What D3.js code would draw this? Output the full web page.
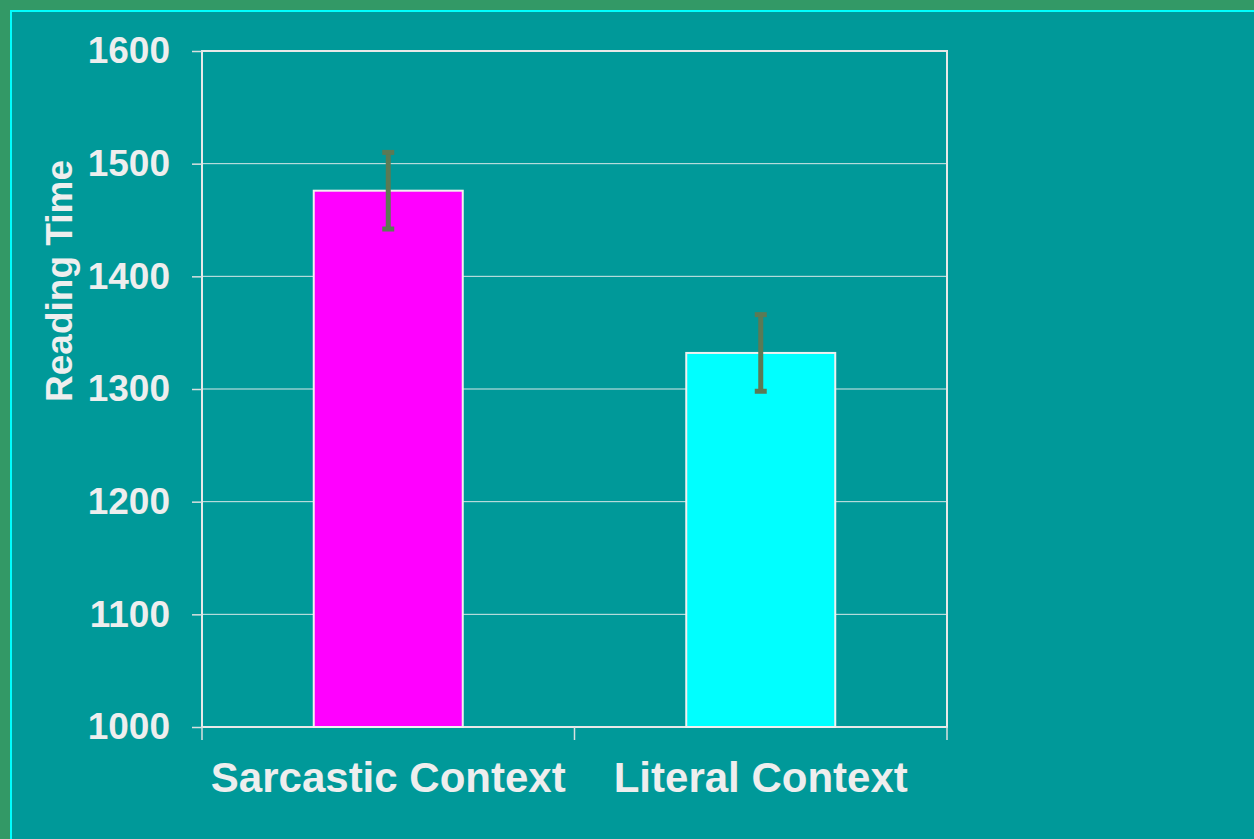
<!DOCTYPE html>
<html>
<head>
<meta charset="utf-8">
<script src="https://cdn.jsdelivr.net/npm/d3@7"></script>
<style>
html,body{margin:0;padding:0;background:#339966;}
svg{display:block;}
text{font-family:"Liberation Sans",Arial,sans-serif;font-weight:bold;fill:#eeeeee;}
</style>
</head>
<body>
<svg id="chart" width="1254" height="839"></svg>
<script>
const categories = ["Sarcastic Context", "Literal Context"];
const values = [1476, 1332];
const errors = [34, 34];
const barColors = ["#ff00ff", "#00ffff"];
const yTicks = [1000, 1100, 1200, 1300, 1400, 1500, 1600];
const yTitle = "Reading Time";

const svg = d3.select("#chart");
const W = 1254, H = 839;
// slide background
svg.append("rect").attr("x", 0).attr("y", 0).attr("width", W).attr("height", H).attr("fill", "#339966");
svg.append("rect").attr("x", 11).attr("y", 11).attr("width", W + 20).attr("height", H + 20)
  .attr("fill", "#009999").attr("stroke", "#00ffff").attr("stroke-width", 2);

const m = {left: 202, right: 947, top: 51, bottom: 727};
const x = d3.scaleBand().domain(categories).range([m.left, m.right]).paddingInner(0).paddingOuter(0);
const y = d3.scaleLinear().domain([1000, 1600]).range([m.bottom, m.top]);

// gridlines
svg.append("g").selectAll("line").data(yTicks.slice(1, -1)).join("line")
  .attr("x1", m.left).attr("x2", m.right)
  .attr("y1", d => y(d)).attr("y2", d => y(d))
  .attr("stroke", "#d8e8e8").attr("stroke-width", 1);

// plot border
svg.append("rect").attr("x", m.left).attr("y", m.top)
  .attr("width", m.right - m.left).attr("height", m.bottom - m.top)
  .attr("fill", "none").attr("stroke", "#e8e8e8").attr("stroke-width", 2);

// bars
const bw = x.bandwidth() * 0.4;
svg.append("g").selectAll("rect").data(categories).join("rect")
  .attr("x", d => x(d) + x.bandwidth() / 2 - bw / 2)
  .attr("y", (d, i) => y(values[i]))
  .attr("width", bw)
  .attr("height", (d, i) => y(1000) - y(values[i]))
  .attr("fill", (d, i) => barColors[i])
  .attr("stroke", "#f0f0f0").attr("stroke-width", 2);

// error bars
const eg = svg.append("g");
categories.forEach((c, i) => {
  const cx = x(c) + x.bandwidth() / 2;
  const hi = y(values[i] + errors[i]), lo = y(values[i] - errors[i]);
  eg.append("line").attr("x1", cx).attr("x2", cx).attr("y1", hi).attr("y2", lo)
    .attr("stroke", "#5b7a55").attr("stroke-width", 5);
  [hi, lo].forEach(yy => eg.append("line").attr("x1", cx - 6).attr("x2", cx + 6)
    .attr("y1", yy).attr("y2", yy).attr("stroke", "#5b7a55").attr("stroke-width", 5));
});

// y axis
const yAxis = d3.axisLeft(y).tickValues(yTicks).tickSize(10).tickPadding(22).tickFormat(d3.format("d"));
const ga = svg.append("g").attr("transform", `translate(${m.left},0)`).call(yAxis);
ga.select(".domain").remove();
ga.selectAll("line").attr("stroke", "#d8e0e0").attr("stroke-width", 1.5);
ga.selectAll("text").attr("fill", "#eeeeee").style("font-size", "37px")
  .style("font-family", "'Liberation Sans', Arial, sans-serif").style("font-weight", "bold");

// x axis ticks (category boundaries)
const xb = [m.left, x(categories[1]), m.right];
svg.append("g").selectAll("line").data(xb).join("line")
  .attr("x1", d => d).attr("x2", d => d).attr("y1", m.bottom).attr("y2", m.bottom + 13)
  .attr("stroke", "#d8e0e0").attr("stroke-width", 1.5);

// category labels
svg.append("g").selectAll("text").data(categories).join("text")
  .attr("x", d => x(d) + x.bandwidth() / 2)
  .attr("y", 792)
  .attr("text-anchor", "middle")
  .style("font-size", "42px")
  .text(d => d);

// y title
svg.append("text")
  .attr("transform", `translate(72,${(m.top + m.bottom) / 2 - 108}) rotate(-90)`)
  .attr("text-anchor", "middle")
  .style("font-size", "37px")
  .text(yTitle);
</script>
</body>
</html>
